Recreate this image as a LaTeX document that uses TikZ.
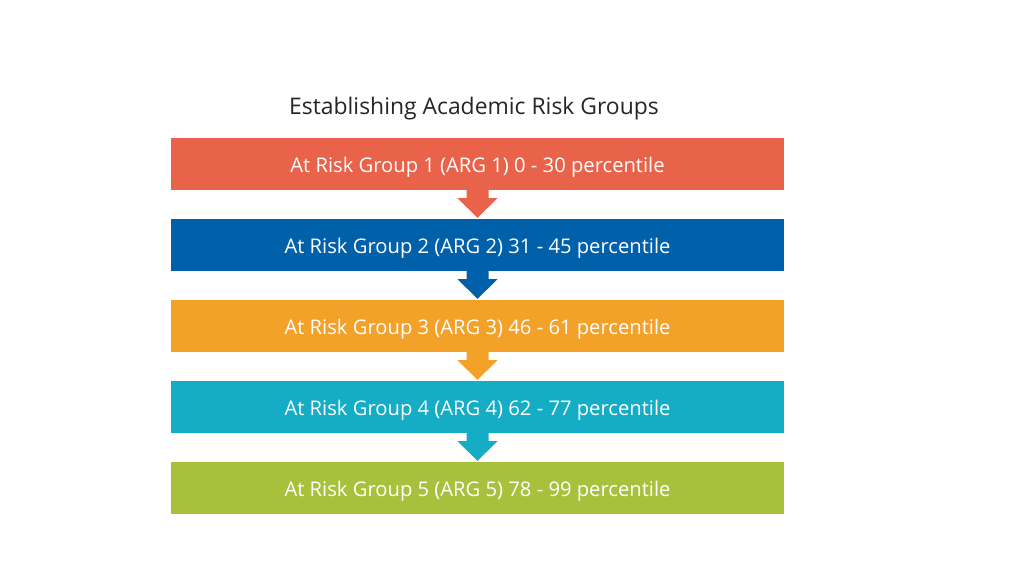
\documentclass[tikz,border=0pt]{standalone}
\usepackage{fontspec}
\setmainfont{Open Sans}
\usepackage{tikz}

\definecolor{argred}{RGB}{233,98,74}
\definecolor{argblue}{RGB}{0,96,170}
\definecolor{argorange}{RGB}{243,161,40}
\definecolor{argcyan}{RGB}{21,172,198}
\definecolor{arggreen}{RGB}{168,193,60}

\tikzset{grp/.style={minimum width=613pt, minimum height=52pt, inner sep=0pt, text height=16pt, text depth=0pt, text=white, font=\fontsize{20.2}{22}\selectfont}}

\begin{document}
\begin{tikzpicture}[x=1pt,y=-1pt]
			\useasboundingbox (0,0) rectangle (1024,576);
			\node[font=\fontsize{22.9}{26}\selectfont, text height=18pt, text depth=0pt, text=black!85] (T) at (474,105){Establishing Academic Risk Groups};
			
			\node[grp, fill=argred] (G1) at (477.5,164){At Risk Group 1 (ARG 1) 0 - 30 percentile};
			\node[grp, fill=argblue] (G2) at (477.5,245){At Risk Group 2 (ARG 2) 31 - 45 percentile};
			\node[grp, fill=argorange] (G3) at (477.5,326){At Risk Group 3 (ARG 3) 46 - 61 percentile};
			\node[grp, fill=argcyan] (G4) at (477.5,407){At Risk Group 4 (ARG 4) 62 - 77 percentile};
			\node[grp, fill=arggreen] (G5) at (477.5,488){At Risk Group 5 (ARG 5) 78 - 99 percentile};
			
			\foreach \a/\b/\c in {G1/G2/argred, G2/G3/argblue, G3/G4/argorange, G4/G5/argcyan}
				\fill[\c] ([xshift=-11pt]\a.south) -- ([xshift=-11pt,yshift=-8pt]\a.south) -- ([xshift=-20pt,yshift=-8pt]\a.south) -- ([yshift=1pt]\b.north) -- ([xshift=20pt,yshift=-8pt]\a.south) -- ([xshift=11pt,yshift=-8pt]\a.south) -- ([xshift=11pt]\a.south) -- cycle;
			
		\end{tikzpicture}
\end{document}
